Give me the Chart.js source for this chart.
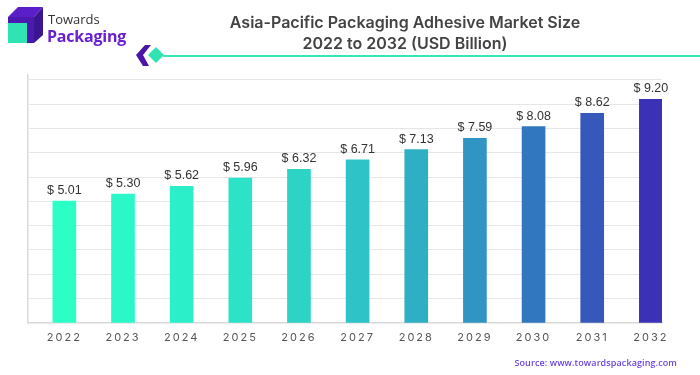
<!DOCTYPE html>
<html>
<head>
<meta charset="utf-8">
<script src="https://cdn.jsdelivr.net/npm/chart.js@4.4.1/dist/chart.umd.min.js"></script>
<style>
  html, body { margin: 0; padding: 0; background: #fff; }
  #wrap { position: relative; width: 700px; height: 375px; overflow: hidden; }
  #chart { position: absolute; left: 0; top: 0; }
  .title { position: absolute; left: 205px; width: 400px; top: 12px; text-align: center;
           font-family: Inter, "Liberation Sans", sans-serif; font-weight: 600; font-size: 16px;
           line-height: 21px; color: #434343; }
  .rule { position: absolute; left: 163px; right: 0; top: 55px; height: 2px; background: #35e6b9; }
  .deco { position: absolute; left: 136px; top: 44px; }
  .logo { position: absolute; left: 8px; top: 7px; }
  .brand1 { position: absolute; left: 48px; top: 10px; font-family: "Open Sans", sans-serif;
            font-size: 13px; color: #333; }
  .brand2 { position: absolute; left: 47px; top: 25px; font-family: "Open Sans", sans-serif;
            font-weight: 700; font-size: 16px; color: #6a1fd2; letter-spacing: -0.2px; }
  .source { position: absolute; right: 23px; top: 356px; font-family: "Open Sans", sans-serif;
            font-weight: 600; font-size: 9px; color: #6a45e0; letter-spacing: 0.1px; }
</style>
</head>
<body>
<div id="wrap">
  <canvas id="chart" width="700" height="375"></canvas>
  <svg class="logo" width="36" height="38" viewBox="0 0 36 38">
    <polygon points="0,10 10,0 35,0 26,10" fill="#5a1fc8"/>
    <polygon points="26,10 35,0 35,28 26,36" fill="#3a1590"/>
    <rect x="0" y="10" width="26" height="26" fill="#4c1ab0"/>
    <rect x="0" y="16" width="19" height="20" fill="#2fe3b3"/>
  </svg>
  <div class="brand1">Towards</div>
  <div class="brand2">Packaging</div>
  <div class="title">Asia-Pacific Packaging Adhesive Market Size<br>2022 to 2032 (USD Billion)</div>
  <svg class="deco" width="32" height="24" viewBox="0 0 32 24">
    <polygon points="9,1 15,1 7,11 13,22 7,22 0,11" fill="#4a16a8"/>
    <polygon points="20,3 28,11 20,19 12,11" fill="#2fe3b3"/>
  </svg>
  <div class="rule"></div>
  <div class="source">Source: www.towardspackaging.com</div>
</div>
<script>
// market size, USD billion
const years = ['2022', '2023', '2024', '2025', '2026', '2027', '2028', '2029', '2030', '2031', '2032'];
const values = [5.01, 5.30, 5.62, 5.96, 6.32, 6.71, 7.13, 7.59, 8.08, 8.62, 9.20];
const barColors = [
  '#2cffc6', '#2bf8c8', '#2befc9', '#2ce3c7', '#2dd3c5', '#2ec4c7',
  '#2fafc4', '#3095c2', '#3177bf', '#3558ba', '#3a31b7'
];

// "$ 5.01" labels above the bars
const valueLabels = {
  id: 'valueLabels',
  afterDatasetsDraw(chart) {
    const ctx = chart.ctx;
    const meta = chart.getDatasetMeta(0);
    ctx.save();
    ctx.font = '12.5px "Liberation Sans", Arial, sans-serif';
    ctx.fillStyle = '#333';
    ctx.textAlign = 'center';
    ctx.textBaseline = 'alphabetic';
    meta.data.forEach((bar, i) => {
      ctx.fillText('$ ' + values[i].toFixed(2), bar.x, bar.y - 7);
    });
    ctx.restore();
  }
};

// spaced-out year labels
const spacedTicks = {
  id: 'spacedTicks',
  beforeDraw(chart) { chart.ctx.letterSpacing = '2px'; },
  beforeDatasetsDraw(chart) { chart.ctx.letterSpacing = '0px'; }
};

new Chart(document.getElementById('chart'), {
  type: 'bar',
  data: {
    datasets: [{
      data: values.map((v, i) => ({ x: i, y: v })),
      backgroundColor: barColors,
      borderWidth: 0,
      barThickness: 23
    }]
  },
  plugins: [valueLabels, spacedTicks],
  options: {
    responsive: false,
    animation: false,
    layout: { padding: { left: 28, right: 38, top: 75, bottom: 23 } },
    plugins: { legend: { display: false }, tooltip: { enabled: false } },
    scales: {
      x: {
        type: 'linear',
        offset: false,
        min: -0.62,
        max: 10.19,
        afterBuildTicks: s => { s.ticks = years.map((y, i) => ({ value: i })); },
        grid: { display: false, drawTicks: false },
        border: { display: true, color: '#d9d9d9', width: 1.5 },
        ticks: {
          padding: 8,
          autoSkip: false,
          maxRotation: 0,
          color: '#555',
          font: { family: 'Inter, "Liberation Sans", sans-serif', size: 11 },
          callback: v => years[v]
        }
      },
      y: {
        min: 0,
        max: 10.2,
        afterBuildTicks: s => { s.ticks = [1, 2, 3, 4, 5, 6, 7, 8, 9, 10].map(v => ({ value: v })); },
        grid: { color: '#e6e6e6', lineWidth: 1, drawTicks: false },
        border: { display: true, color: '#d9d9d9', width: 1.5 },
        ticks: { display: false }
      }
    }
  }
});
</script>
</body>
</html>
